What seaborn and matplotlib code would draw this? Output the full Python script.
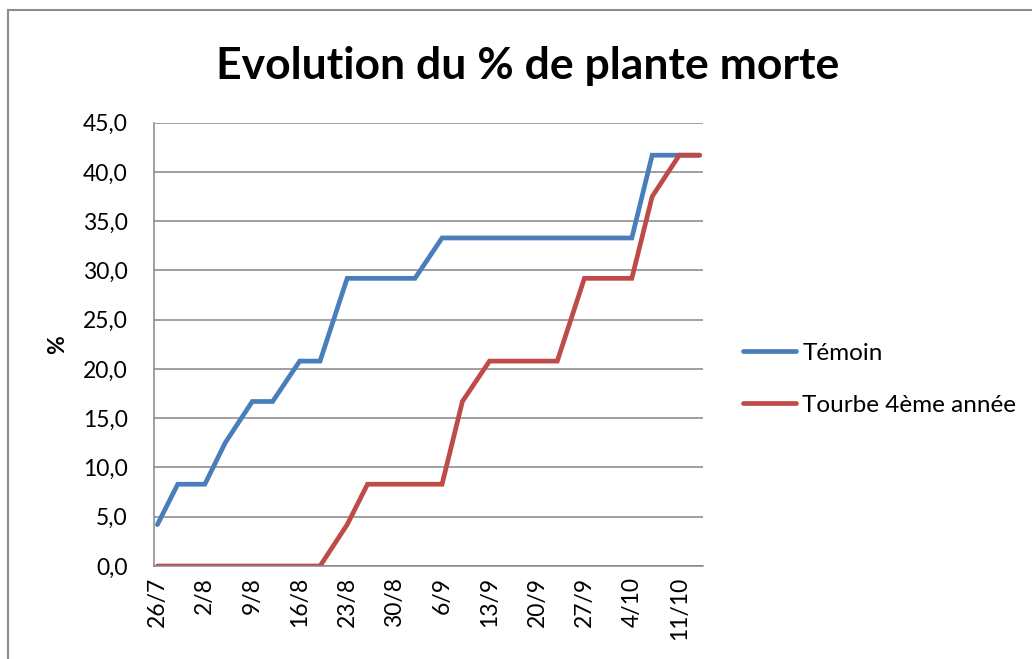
import matplotlib
matplotlib.use("Agg")
import matplotlib.pyplot as plt
from matplotlib.ticker import FuncFormatter, MultipleLocator
from matplotlib.patches import Rectangle
from matplotlib.lines import Line2D
import seaborn as sns
import pandas as pd

# ---- data ----
dates = ["2010-07-26", "2010-07-29", "2010-08-02", "2010-08-05", "2010-08-09", "2010-08-12",
         "2010-08-16", "2010-08-19", "2010-08-23", "2010-08-26", "2010-08-30", "2010-09-02",
         "2010-09-06", "2010-09-09", "2010-09-13", "2010-09-16", "2010-09-20", "2010-09-23",
         "2010-09-27", "2010-09-30", "2010-10-04", "2010-10-07", "2010-10-11", "2010-10-14"]
temoin = [4.2, 8.3, 8.3, 12.5, 16.7, 16.7, 20.8, 20.8, 29.2, 29.2, 29.2, 29.2,
          33.3, 33.3, 33.3, 33.3, 33.3, 33.3, 33.3, 33.3, 33.3, 41.7, 41.7, 41.7]
tourbe = [0.0, 0.0, 0.0, 0.0, 0.0, 0.0, 0.0, 0.0, 4.2, 8.3, 8.3, 8.3,
          8.3, 16.7, 20.8, 20.8, 20.8, 20.8, 29.2, 29.2, 29.2, 37.5, 41.7, 41.7]
series_names = ["Témoin", "Tourbe 4ème année"]
tick_dates = ["2010-07-26", "2010-08-02", "2010-08-09", "2010-08-16", "2010-08-23", "2010-08-30",
              "2010-09-06", "2010-09-13", "2010-09-20", "2010-09-27", "2010-10-04", "2010-10-11"]
tick_labels = ["26/7", "2/8", "9/8", "16/8", "23/8", "30/8", "6/9", "13/9", "20/9", "27/9", "4/10", "11/10"]
title = "Evolution du % de plante morte"
ylabel = "%"

colors = ["#4A7EBB", "#BE4B48"]

df = pd.DataFrame({
    "date": pd.to_datetime(dates * 2),
    "value": temoin + tourbe,
    "serie": [series_names[0]] * len(dates) + [series_names[1]] * len(dates),
})

sns.set_theme(style="white")
plt.rcParams["font.family"] = ["Lato", "DejaVu Sans"]
plt.rcParams["text.color"] = "black"
plt.rcParams["axes.labelcolor"] = "black"
plt.rcParams["xtick.color"] = "black"
plt.rcParams["ytick.color"] = "black"

fig = plt.figure(figsize=(10.32, 6.59), dpi=100)
ax = fig.add_axes([154 / 1032, 1 - 566 / 659, (703 - 154) / 1032, (566 - 122.7) / 659])

sns.lineplot(data=df, x="date", y="value", hue="serie", palette=colors,
             linewidth=3.4, ax=ax, legend=False, solid_capstyle="round",
             solid_joinstyle="miter")

d0 = pd.Timestamp(dates[0]) - pd.Timedelta(hours=12)
d1 = pd.Timestamp(dates[-1]) + pd.Timedelta(hours=12)
ax.set_xlim(d0, d1)
ax.set_ylim(0, 45)
ax.yaxis.set_major_locator(MultipleLocator(5))
ax.yaxis.set_major_formatter(FuncFormatter(lambda v, p: f"{v:.1f}".replace(".", ",")))
ax.set_xticks(pd.to_datetime(tick_dates))
ax.set_xticklabels(tick_labels, rotation=90, fontsize=16.5)
ax.tick_params(axis="y", labelsize=16.5, length=0, pad=19, labelcolor="black")
ax.tick_params(axis="x", length=0, pad=8, labelcolor="black")
ax.set_xlabel("")
ax.set_ylabel(ylabel, fontsize=16.5, fontweight="bold", color="black")
ax.yaxis.set_label_coords((68 - 154) / 549, 0.5)

ax.grid(axis="y", color="#868686", linewidth=1.1)
ax.grid(axis="x", visible=False)
ax.set_axisbelow(True)
for s in ["top", "right"]:
    ax.spines[s].set_visible(False)
for s in ["left", "bottom"]:
    ax.spines[s].set_color("#868686")
    ax.spines[s].set_linewidth(1.1)

fig.text(528 / 1032, 1 - 66 / 659, title, ha="center", va="center",
         fontsize=32, fontweight="bold", color="black")

handles = [Line2D([0], [0], color=c, lw=3.4, solid_capstyle="round") for c in colors]
leg = fig.legend(handles, series_names, loc="upper left",
                 bbox_to_anchor=(733 / 1032, 1 - 333 / 659), frameon=False,
                 fontsize=17.5, handlelength=2.2, handletextpad=0.25, labelspacing=1.28,
                 borderaxespad=0)
for t in leg.get_texts():
    t.set_color("black")

fig.patches.append(Rectangle((8 / 1032, -0.05), 1.2, 1 - 10 / 659 + 0.05,
                             transform=fig.transFigure, fill=False,
                             edgecolor="#8C8C8C", linewidth=1.5))

fig.savefig("out.png", dpi=100, facecolor="white")
